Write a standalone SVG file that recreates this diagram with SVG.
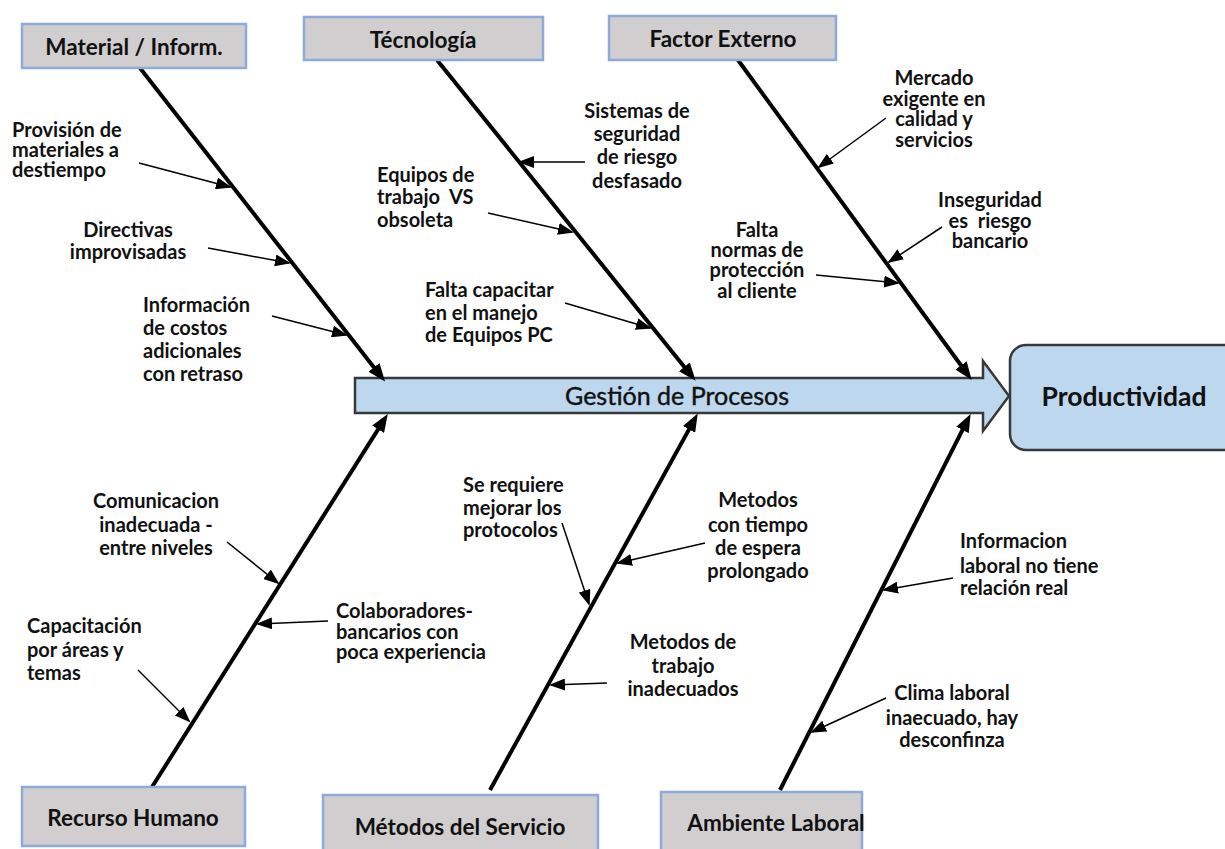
<svg xmlns="http://www.w3.org/2000/svg" width="1225" height="849" viewBox="0 0 1225 849">
<defs>
<style>
.cat{fill:#D0CECE;stroke:#8EAADB;stroke-width:2.5}
.ct{font-family:Lato,"Open Sans",sans-serif;font-weight:bold;font-size:22.5px;fill:#111;text-anchor:middle}
.lb{font-family:Lato,"Open Sans",sans-serif;font-weight:bold;font-size:20px;fill:#111}
.m{text-anchor:middle}
.bone{stroke:#000;stroke-width:4;fill:none;marker-end:url(#hb)}
.sub{stroke:#000;stroke-width:1.5;fill:none;marker-end:url(#hs)}
</style>
<marker id="hb" markerUnits="userSpaceOnUse" markerWidth="18" markerHeight="14" refX="2" refY="7" orient="auto">
<path d="M0,0 L18,7 L0,14 Z" fill="#000"/>
</marker>
<marker id="hs" markerUnits="userSpaceOnUse" markerWidth="16" markerHeight="12" refX="14" refY="6" orient="auto">
<path d="M0,0 L16,6 L0,12 Z" fill="#000"/>
</marker>
</defs>
<rect width="1225" height="849" fill="#fff"/>

<g id="spine">
<path d="M355,378 L983,378 L983,361 L1009,396 L983,431 L983,413 L355,413 Z" fill="#BDD7EE" stroke="#383838" stroke-width="2.5"/>
<text x="677" y="405" style="font-family:Lato,'Open Sans',sans-serif;font-size:25px;fill:#111;stroke:#111;stroke-width:0.4;text-anchor:middle">Gestión de Procesos</text>
</g>

<g id="effect">
<rect x="1010" y="345" width="240" height="105" rx="16" fill="#BDD7EE" stroke="#383838" stroke-width="2.5"/>
<text x="1124" y="406" style="font-family:Lato,'Open Sans',sans-serif;font-weight:bold;font-size:26.5px;fill:#111;text-anchor:middle">Productividad</text>
</g>

<g id="connectors">
<path class="bone" d="M140,68 L375.2,369"/>
<path class="bone" d="M437,60 L685.6,368.4"/>
<path class="bone" d="M738,60 L962.2,367"/>
<path class="bone" d="M152,787 L379.2,427.6"/>
<path class="bone" d="M490,790 L690,427.6"/>
<path class="bone" d="M780,790 L963.4,428.2"/>

<path class="sub" d="M139,163 L230,187"/>
<path class="sub" d="M208,248 L289,263"/>
<path class="sub" d="M272,316 L346,335"/>
<path class="sub" d="M585,162 L520,162"/>
<path class="sub" d="M488,213 L572,232"/>
<path class="sub" d="M565,303 L650,328"/>
<path class="sub" d="M886,118 L819,167"/>
<path class="sub" d="M942,227 L889,262"/>
<path class="sub" d="M816,275 L898,283"/>
<path class="sub" d="M227,542 L278,583"/>
<path class="sub" d="M328,621 L258,624"/>
<path class="sub" d="M138,670 L189,721"/>
<path class="sub" d="M562,523 L589,604"/>
<path class="sub" d="M705,543 L618,563"/>
<path class="sub" d="M607,683 L551,685"/>
<path class="sub" d="M953,578 L884,590"/>
<path class="sub" d="M886,698 L812,732"/>
</g>

<g id="cat-material">
<rect class="cat" x="22" y="24" width="224" height="44"/>
<text class="ct" x="134" y="55">Material / Inform.</text>
</g>
<g id="cat-tecnologia">
<rect class="cat" x="304" y="17" width="239" height="43"/>
<text class="ct" x="423" y="48">Técnología</text>
</g>
<g id="cat-factor">
<rect class="cat" x="609" y="16" width="227" height="44"/>
<text class="ct" x="723" y="47">Factor Externo</text>
</g>
<g id="cat-recurso">
<rect class="cat" x="22" y="787" width="223" height="59"/>
<text class="ct" x="133" y="826">Recurso Humano</text>
</g>
<g id="cat-metodos">
<rect class="cat" x="323" y="795" width="275" height="62"/>
<text class="ct" x="460" y="835">Métodos del Servicio</text>
</g>
<g id="cat-ambiente">
<rect class="cat" x="661" y="792" width="201" height="62"/>
<text class="ct" x="776" y="831">Ambiente Laboral</text>
</g>

<g id="c-provision">
<text class="lb" x="12"><tspan x="12" y="137">Provisión de</tspan><tspan x="12" y="157">materiales a</tspan><tspan x="12" y="177">destiempo</tspan></text>
</g>
<g id="c-directivas">
<text class="lb m" x="128"><tspan x="128" y="237">Directivas</tspan><tspan x="128" y="259">improvisadas</tspan></text>
</g>
<g id="c-informacion">
<text class="lb" x="143"><tspan x="143" y="312">Información</tspan><tspan x="143" y="335">de costos</tspan><tspan x="143" y="358">adicionales</tspan><tspan x="143" y="381">con retraso</tspan></text>
</g>

<g id="c-sistemas">
<text class="lb m" x="637"><tspan x="637" y="118">Sistemas de</tspan><tspan x="637" y="141">seguridad</tspan><tspan x="637" y="164">de riesgo</tspan><tspan x="637" y="188">desfasado</tspan></text>
</g>
<g id="c-equipos">
<text class="lb" x="377" style="white-space:pre"><tspan x="377" y="182">Equipos de</tspan><tspan x="377" y="204">trabajo  VS</tspan><tspan x="377" y="227">obsoleta</tspan></text>
</g>
<g id="c-capacitar">
<text class="lb" x="425"><tspan x="425" y="297">Falta capacitar</tspan><tspan x="425" y="320">en el manejo</tspan><tspan x="425" y="342">de Equipos PC</tspan></text>
</g>

<g id="c-mercado">
<text class="lb m" x="934"><tspan x="934" y="85">Mercado</tspan><tspan x="934" y="106">exigente en</tspan><tspan x="934" y="126">calidad y</tspan><tspan x="934" y="147">servicios</tspan></text>
</g>
<g id="c-inseguridad">
<text class="lb m" x="990" style="white-space:pre"><tspan x="990" y="207">Inseguridad</tspan><tspan x="990" y="228">es  riesgo</tspan><tspan x="990" y="248">bancario</tspan></text>
</g>
<g id="c-normas">
<text class="lb m" x="757"><tspan x="757" y="237">Falta</tspan><tspan x="757" y="257">normas de</tspan><tspan x="757" y="277">protección</tspan><tspan x="757" y="298">al cliente</tspan></text>
</g>

<g id="c-comunicacion">
<text class="lb m" x="156"><tspan x="156" y="508">Comunicacion</tspan><tspan x="156" y="532">inadecuada -</tspan><tspan x="156" y="555">entre niveles</tspan></text>
</g>
<g id="c-colaboradores">
<text class="lb" x="336"><tspan x="336" y="618">Colaboradores-</tspan><tspan x="336" y="639">bancarios con</tspan><tspan x="336" y="659">poca experiencia</tspan></text>
</g>
<g id="c-capacitacion">
<text class="lb" x="27"><tspan x="27" y="633">Capacitación</tspan><tspan x="27" y="657">por áreas y</tspan><tspan x="27" y="680">temas</tspan></text>
</g>

<g id="c-protocolos">
<text class="lb" x="463"><tspan x="463" y="492">Se requiere</tspan><tspan x="463" y="515">mejorar los</tspan><tspan x="463" y="537">protocolos</tspan></text>
</g>
<g id="c-espera">
<text class="lb m" x="758"><tspan x="758" y="507">Metodos</tspan><tspan x="758" y="532">con tiempo</tspan><tspan x="758" y="555">de espera</tspan><tspan x="758" y="578">prolongado</tspan></text>
</g>
<g id="c-trabajo">
<text class="lb m" x="683"><tspan x="683" y="649">Metodos de</tspan><tspan x="683" y="673">trabajo</tspan><tspan x="683" y="696">inadecuados</tspan></text>
</g>

<g id="c-laboral">
<text class="lb" x="960"><tspan x="960" y="548">Informacion</tspan><tspan x="960" y="573">laboral no tiene</tspan><tspan x="960" y="595">relación real</tspan></text>
</g>
<g id="c-clima">
<text class="lb m" x="952"><tspan x="952" y="700">Clima laboral</tspan><tspan x="952" y="725">inaecuado, hay</tspan><tspan x="952" y="747">desconfinza</tspan></text>
</g>
</svg>
